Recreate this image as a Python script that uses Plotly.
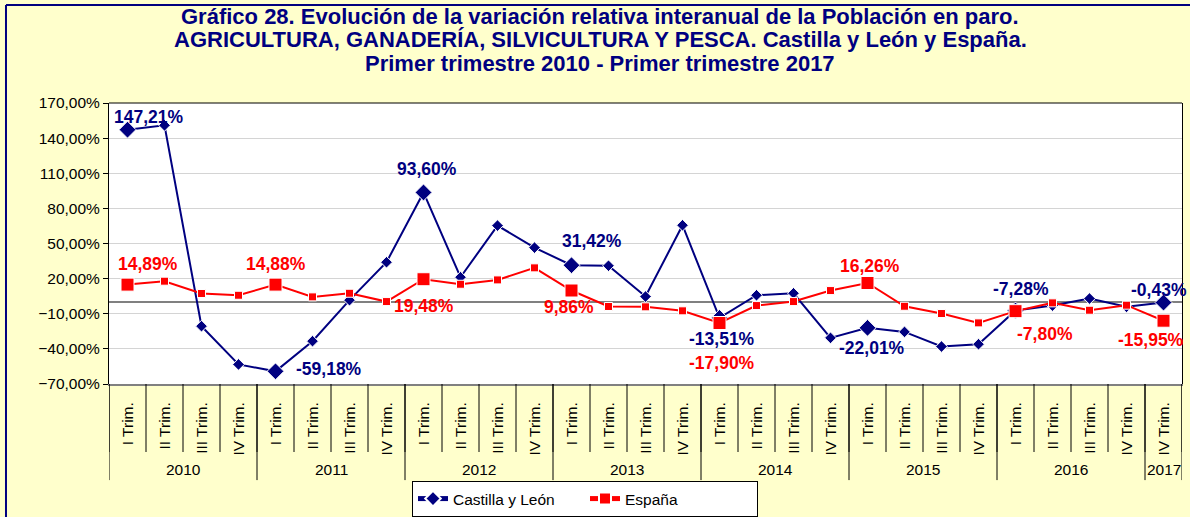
import plotly.graph_objects as go

# ---------------- data ----------------
quarters = ["I Trim.", "II Trim.", "III Trim.", "IV Trim."] * 7 + ["IV Trim."]
year_groups = [("2010", 4), ("2011", 4), ("2012", 4), ("2013", 4),
               ("2014", 4), ("2015", 4), ("2016", 4), ("2017", 1)]

cyl = [147.21, 150.9, -20.6, -53.3, -59.18, -33.4, 1.6, 34.0,
       93.60, 21.2, 65.3, 46.5, 31.42, 31.0, 4.7, 65.6,
       -13.51, 5.8, 7.5, -30.6, -22.01, -25.5, -38.0, -36.0,
       -7.28, -3.0, 3.0, -4.1, -0.43]
esp = [14.89, 17.8, 7.3, 5.8, 14.88, 4.4, 7.5, 0.4,
       19.48, 15.2, 18.9, 29.2, 9.86, -3.8, -4.1, -7.5,
       -17.90, -3.0, 0.4, 9.8, 16.26, -3.6, -9.8, -17.8,
       -7.80, -0.7, -7.0, -2.7, -15.95]

title_lines = [
    "Gráfico 28. Evolución de la variación relativa interanual de la Población en paro.",
    "AGRICULTURA, GANADERÍA, SILVICULTURA Y PESCA. Castilla y León y España.",
    "Primer trimestre 2010 - Primer trimestre 2017",
]

labelled = [0, 4, 8, 12, 16, 20, 24, 28]
# label offsets in px (xshift, yshift)
cyl_off = {0: (21, 13), 4: (53, 2), 8: (3, 23), 12: (20, 24),
           16: (2, -21), 20: (4, -20), 24: (5, 22), 28: (-5, 13)}
esp_off = {0: (20, 21), 4: (0, 21), 8: (0, -27), 12: (-3, -16),
           16: (2, -40), 20: (2, 17), 24: (29, -23), 28: (-13, -19)}

NAVY = "#000080"
RED = "#FF0000"
FONT = "Arial, Liberation Sans, sans-serif"

x = list(range(len(quarters)))


def fmt(v):
    return f"{v:.2f}".replace(".", ",") + "%"


fig = go.Figure()
fig.add_trace(go.Scatter(
    x=x, y=cyl, name="Castilla y León", mode="lines+markers",
    line=dict(color=NAVY, width=2),
    marker=dict(symbol="diamond", color=NAVY, opacity=1,
                size=[13 if i in labelled else 9 for i in x]),
))
fig.add_trace(go.Scatter(
    x=x, y=esp, name="España", mode="lines+markers",
    line=dict(color=RED, width=2),
    marker=dict(symbol="square", color=RED, opacity=1,
                size=[13 if i in labelled else 8 for i in x]),
))

annotations = []
for i in labelled:
    dx, dy = cyl_off[i]
    annotations.append(dict(x=i, y=cyl[i], xref="x", yref="y", text=fmt(cyl[i]),
                            showarrow=False, xshift=dx, yshift=dy,
                            font=dict(family=FONT, size=17.5, color=NAVY, weight="bold")))
    dx, dy = esp_off[i]
    annotations.append(dict(x=i, y=esp[i], xref="x", yref="y", text=fmt(esp[i]),
                            showarrow=False, xshift=dx, yshift=dy,
                            font=dict(family=FONT, size=17.5, color=RED, weight="bold")))

# title, one annotation per line
PLOT_LEFT, PLOT_W, PLOT_TOP, PLOT_H = 109, 1073, 103, 281
for line, ypx in zip(title_lines, [17, 40, 63]):
    annotations.append(dict(x=(600 - PLOT_LEFT) / PLOT_W, xref="paper",
                            y=1 + (PLOT_TOP - ypx) / PLOT_H, yref="paper",
                            text=line, showarrow=False, xanchor="center",
                            yanchor="middle",
                            font=dict(family=FONT, size=22, color=NAVY, weight="bold")))

# category separators and year labels
shapes = []
n = len(quarters)
for b in range(n + 1):
    shapes.append(dict(type="line", xref="x", yref="paper", x0=b - 0.5, x1=b - 0.5,
                       y0=0, y1=-0.242, line=dict(color="black", width=1)))
start = 0
for yr, cnt in year_groups:
    shapes.append(dict(type="line", xref="x", yref="paper", x0=start - 0.5, x1=start - 0.5,
                       y0=0, y1=-0.342, line=dict(color="black", width=1)))
    annotations.append(dict(x=start + (cnt - 1) / 2, y=-0.306, xref="x", yref="paper",
                            text=yr, showarrow=False, yanchor="middle",
                            font=dict(family=FONT, size=15.5, color="black")))
    start += cnt
shapes.append(dict(type="line", xref="x", yref="paper", x0=n - 0.5, x1=n - 0.5,
                   y0=0, y1=-0.342, line=dict(color="black", width=1)))

# top border of plot area
shapes.append(dict(type="line", xref="paper", yref="paper", x0=0, x1=1, y0=1, y1=1,
                   line=dict(color="black", width=1)))
# outer chart frame (navy)
shapes.append(dict(type="line", xref="paper", yref="paper", x0=-0.096, x1=1.05,
                   y0=1.349, y1=1.349, line=dict(color=NAVY, width=2)))
shapes.append(dict(type="line", xref="paper", yref="paper", x0=-0.096, x1=-0.096,
                   y0=1.349, y1=-0.55, line=dict(color=NAVY, width=2)))

fig.update_layout(
    width=1190, height=517,
    margin=dict(l=PLOT_LEFT, r=8, t=PLOT_TOP, b=133, autoexpand=False),
    paper_bgcolor="#FFFFCC", plot_bgcolor="white",
    separators=",.",
    font=dict(family=FONT, size=15.5, color="black"),
    xaxis=dict(
        range=[-0.5, n - 0.5], tickmode="array", tickvals=x, ticktext=quarters,
        tickangle=-90, ticks="", showgrid=False, zeroline=False,
        showline=True, linecolor="#808080", linewidth=2,
        tickfont=dict(family=FONT, size=15.5, color="black"),
        ticklabelstandoff=10, automargin=False,
    ),
    xaxis2=dict(
        overlaying="x", anchor="free", position=70 / 240, matches="x",
        range=[-0.5, n - 0.5], tickmode="array",
        tickvals=[b - 0.5 for b in range(n + 1)],
        ticks="outside", ticklen=6, tickcolor="black", showticklabels=False,
        showgrid=False, showline=False, zeroline=False, layer="below traces",
    ),
    yaxis=dict(
        range=[-70, 170], dtick=30, tick0=-70, tickformat=".2f", ticksuffix="%",
        showgrid=True, gridcolor="#D4D4D4", gridwidth=1,
        zeroline=True, zerolinecolor="#808080", zerolinewidth=2,
        showline=True, linecolor="black", linewidth=1, mirror=True,
        ticks="outside", ticklen=5, tickcolor="black",
        tickfont=dict(family=FONT, size=15.5, color="black"),
        automargin=False,
    ),
    legend=dict(
        orientation="h", x=(585 - PLOT_LEFT) / PLOT_W, xanchor="center",
        y=(384 - 481) / PLOT_H, yanchor="top",
        bgcolor="white", bordercolor="black", borderwidth=1,
        font=dict(family=FONT, size=15.5, color="black"),
        entrywidth=127, itemsizing="constant",
    ),
    showlegend=True,
    annotations=annotations,
    shapes=shapes,
)

fig.write_html("out.html", config={"displayModeBar": False},
               post_script="document.body.style.margin='0';document.body.style.overflow='hidden';")
